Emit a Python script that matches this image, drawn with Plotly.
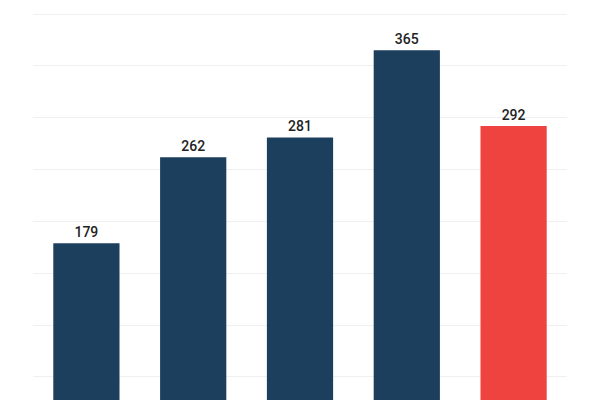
import plotly.graph_objects as go

# values; category labels sit below the visible area
categories = ["A", "B", "C", "D", "E"]
values = [179, 262, 281, 365, 292]
bar_colors = ["#1b3f5d", "#1b3f5d", "#1b3f5d", "#1b3f5d", "#ef4340"]

fig = go.Figure()
fig.add_trace(go.Bar(
    x=categories, y=values,
    marker_color=bar_colors,
    marker_line_width=0,
    text=[str(v) for v in values],
    textposition="outside",
    textfont=dict(family="Roboto", size=14, color="#222222", weight=500),
    cliponaxis=False,
))
# page body adds an 8px offset, so margins/range are shifted to compensate
fig.update_layout(
    width=600, height=400,
    margin=dict(l=25, r=41, t=0, b=0),
    plot_bgcolor="white",
    paper_bgcolor="white",
    bargap=0.38,
    showlegend=False,
    xaxis=dict(showticklabels=False, showgrid=False, zeroline=False,
               showline=False, ticks=""),
    yaxis=dict(range=[20.1, 405.8], dtick=50, tick0=0, showticklabels=False,
               gridcolor="#f0f0f0", gridwidth=1, zeroline=False,
               showline=False, ticks=""),
)
fig.write_html("out.html")
